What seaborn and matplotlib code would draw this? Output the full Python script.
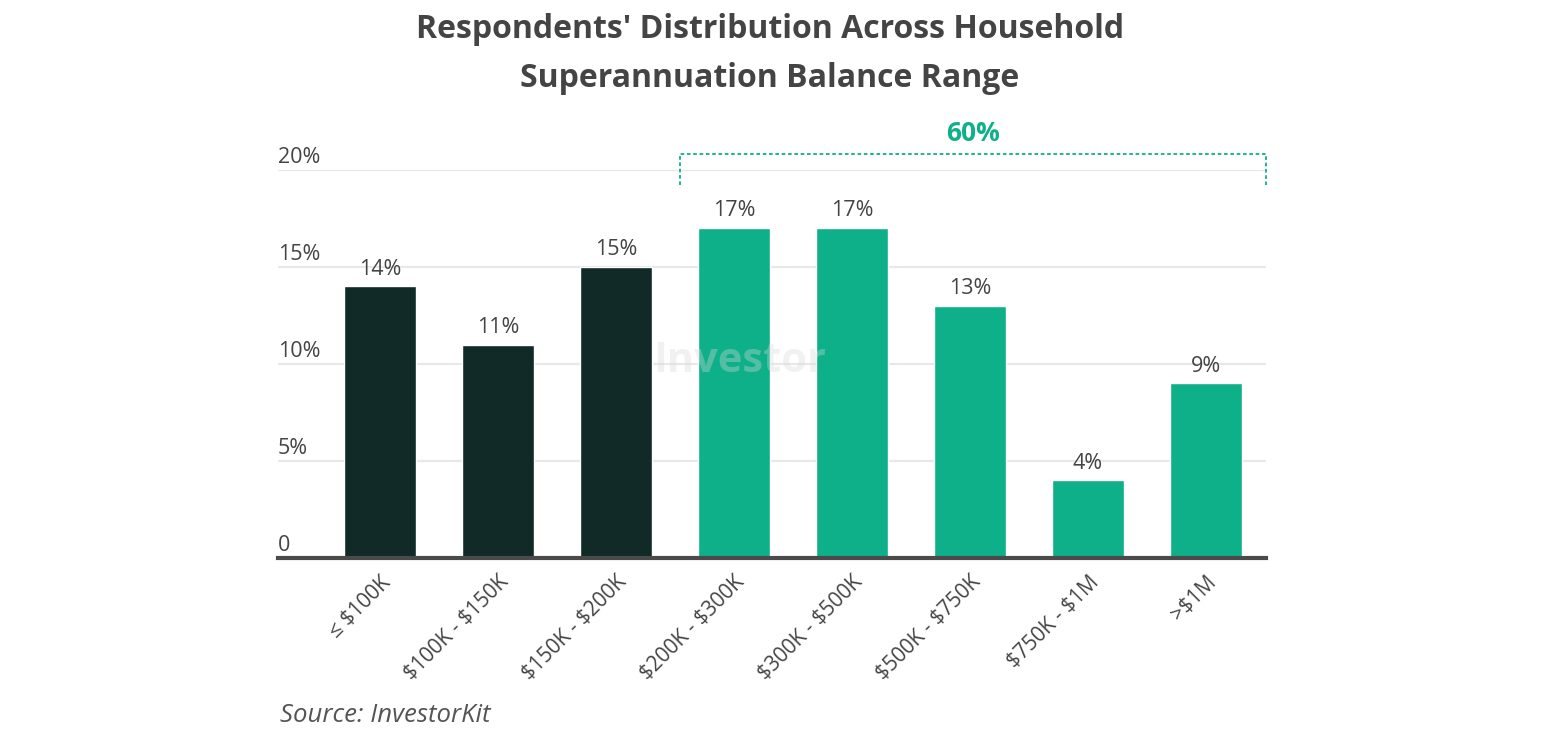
import matplotlib
matplotlib.use("Agg")
import matplotlib.pyplot as plt
import seaborn as sns
import pandas as pd
from matplotlib.transforms import blended_transform_factory

categories = ["≤ $100K", "$100K - $150K", "$150K - $200K", "$200K - $300K",
              "$300K - $500K", "$500K - $750K", "$750K - $1M", ">$1M"]
values = [14, 11, 15, 17, 17, 13, 4, 9]
groups = ["low", "low", "low", "high", "high", "high", "high", "high"]
yticks = [0, 5, 10, 15, 20]
ytick_labels = ["0", "5%", "10%", "15%", "20%"]
bracket_label = "60%"

DARK = "#112927"
GREEN = "#0db088"
TEXT = "#444444"

sns.set_theme(style="white")
plt.rcParams["font.family"] = ["Open Sans", "DejaVu Sans"]
plt.rcParams["text.parse_math"] = False

df = pd.DataFrame({"cat": categories, "val": values, "grp": groups})

fig = plt.figure(figsize=(15.44, 7.38), dpi=100)
ax = fig.add_axes([278/1544, 1-558/738, (1266-278)/1544, (558-170)/738])

sns.barplot(data=df, x="cat", y="val", hue="grp", palette={"low": DARK, "high": GREEN},
            dodge=False, width=0.61, legend=False, ax=ax, saturation=1)

ax.set_xlim(-0.864, 7.508)
ax.set_ylim(0, 20)
ax.set_xlabel("")
ax.set_ylabel("")
for s in ["top", "right", "left"]:
    ax.spines[s].set_visible(False)
ax.spines["bottom"].set_color("#4a4a4a")
ax.spines["bottom"].set_linewidth(3)
ax.spines["bottom"].set_zorder(5)

ax.set_yticks(yticks)
ax.yaxis.grid(True, color="#e8e8e8", linewidth=1.6)
ax.set_axisbelow(True)
ax.tick_params(axis="y", length=0, labelleft=False)
trans = blended_transform_factory(ax.transAxes, ax.transData)
for t, lab in zip(yticks, ytick_labels):
    ax.text(0.0, t + 0.12, lab, transform=trans, ha="left", va="bottom",
            fontsize=15.5, color=TEXT)

ax.set_xticks(range(len(categories)))
ax.set_xticklabels(categories, rotation=45, ha="right", rotation_mode="anchor",
                   fontsize=15, color=TEXT)
ax.tick_params(axis="x", length=0, pad=10)

for i, v in enumerate(values):
    ax.text(i, v + 0.35, f"{v}%", ha="center", va="bottom", fontsize=15.5, color=TEXT)

# bracket over highlighted group
x0, x1 = 2.54, 7.508
ytop, ybot = 20.8, 19.25
ax.plot([x0, x0, x1, x1], [ybot, ytop, ytop, ybot], color=GREEN, linestyle=(0, (2, 1.5)),
        linewidth=1.3, clip_on=False)
ax.text((x0 + x1) / 2, 21.2, bracket_label, ha="center", va="bottom", fontsize=19,
        fontweight="bold", color=GREEN)

# faint watermark
fig.text(740/1544, 1-362/738, "Investor", ha="center", va="center", fontsize=30,
         color="#d9d9d9", alpha=0.35, fontweight="bold", zorder=10)

fig.text(770/1544, 1-54/738, "Respondents' Distribution Across Household\nSuperannuation Balance Range",
         ha="center", va="center", fontsize=23, fontweight="bold", color=TEXT,
         linespacing=1.65)
fig.text(280/1544, 1-715/738, "Source: InvestorKit", ha="left", va="center",
         fontsize=18.5, style="italic", color="#555555")

fig.savefig("out.png", dpi=100)
